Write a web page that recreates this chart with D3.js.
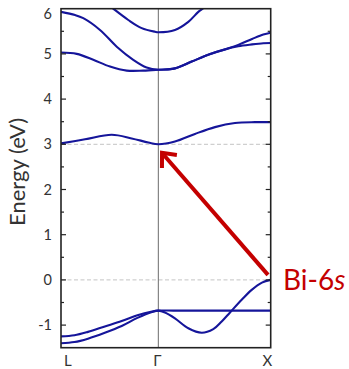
<!DOCTYPE html>
<html>
<head>
<meta charset="utf-8">
<script src="https://cdn.jsdelivr.net/npm/d3@7"></script>
<style>
  html, body { margin: 0; padding: 0; background: #fff; }
  svg { display: block; }
  text { font-family: Lato, "Open Sans", "DejaVu Sans", sans-serif; }
</style>
</head>
<body>
<svg id="chart" width="349" height="369"></svg>
<script>
// High-symmetry points along the k-path (path length, L–Γ shorter than Γ–X)
const kPoints = [
  { label: "L", k: 0.0 },
  { label: "Γ", k: 0.866 },
  { label: "X", k: 1.866 }
];

// Energy ticks (eV)
const yTicks = [-1, 0, 1, 2, 3, 4, 5, 6];
const yMinorTicks = [-1, -0.5, 0, 0.5, 1, 1.5, 2, 2.5, 3, 3.5, 4, 4.5, 5, 5.5];

// Reference energy levels drawn as dashed guides
const guideLevels = [0, 3];

// Band energies [k, E] along L–Γ–X
const valence1 = [[0, -1.25], [0.12, -1.225], [0.24, -1.15], [0.39, -1.03], [0.54, -0.91], [0.68, -0.78], [0.81, -0.70], [0.866, -0.68], [1.0, -0.68], [1.2, -0.68], [1.4, -0.68], [1.6, -0.68], [1.866, -0.68]];
const valence2 = [[0, -1.40], [0.12, -1.375], [0.24, -1.30], [0.39, -1.17], [0.54, -1.02], [0.68, -0.84], [0.81, -0.71], [0.866, -0.68], [0.925, -0.72], [1.014, -0.85], [1.133, -1.07], [1.252, -1.17], [1.355, -1.09], [1.43, -0.92], [1.504, -0.72], [1.608, -0.44], [1.697, -0.22], [1.788, -0.06], [1.866, 0.0]];
const conduction1 = [[0, 3.02], [0.214, 3.11], [0.451, 3.21], [0.629, 3.13], [0.777, 3.04], [0.866, 3.0], [1.014, 3.06], [1.192, 3.23], [1.370, 3.38], [1.548, 3.47], [1.726, 3.49], [1.866, 3.49]];
const upperA = [[0, 5.93], [0.125, 5.86], [0.198, 5.79], [0.347, 5.53], [0.496, 5.16], [0.643, 4.87], [0.762, 4.70], [0.866, 4.65], [1.014, 4.68], [1.163, 4.83], [1.310, 4.98], [1.459, 5.10], [1.577, 5.20], [1.70, 5.33], [1.80, 5.43], [1.866, 5.47]];
const upperB = [[0, 5.03], [0.140, 5.00], [0.287, 4.87], [0.436, 4.72], [0.585, 4.63], [0.732, 4.63], [0.866, 4.65], [1.014, 4.68], [1.163, 4.83], [1.310, 4.98], [1.459, 5.10], [1.577, 5.17], [1.70, 5.21], [1.80, 5.235], [1.866, 5.24]];
const upperC = [[0.44, 6.05], [0.465, 6.0], [0.599, 5.75], [0.718, 5.57], [0.837, 5.49], [0.866, 5.48], [1.014, 5.53], [1.133, 5.71], [1.222, 5.93], [1.261, 6.0], [1.29, 6.06]];
const bands = [valence1, valence2, conduction1, upperA, upperB, upperC];

// Annotation: Bi-6s state at X pointing to the conduction minimum at Γ
const arrowFrom = [1.842, 0.11];
const arrowTo = [0.899, 2.81];

const svg = d3.select("#chart");
const plotLeft = 61, plotRight = 270.7, plotTop = 8.7, plotBottom = 347.7;

const x = d3.scaleLinear().domain([0, 1.866]).range([plotLeft, plotRight]);
const y = d3.scaleLinear().domain([-1.5, 6]).range([plotBottom, plotTop]);

svg.append("defs").append("clipPath").attr("id", "plot-clip")
  .append("rect")
  .attr("x", plotLeft).attr("y", plotTop)
  .attr("width", plotRight - plotLeft).attr("height", plotBottom - plotTop);

// Dashed guide levels
svg.append("g").selectAll("line").data(guideLevels).join("line")
  .attr("x1", plotLeft).attr("x2", plotRight)
  .attr("y1", d => y(d)).attr("y2", d => y(d))
  .attr("stroke", "#c4c4c4").attr("stroke-width", 1)
  .attr("stroke-dasharray", "4,2.5");

// Vertical line at Γ
svg.append("line")
  .attr("x1", x(kPoints[1].k)).attr("x2", x(kPoints[1].k))
  .attr("y1", plotTop).attr("y2", plotBottom)
  .attr("stroke", "#6b6b6b").attr("stroke-width", 1);

// Bands
const line = d3.line()
  .x(d => x(d[0])).y(d => y(d[1]))
  .curve(d3.curveCatmullRom.alpha(0.5));

svg.append("g").attr("clip-path", "url(#plot-clip)")
  .selectAll("path").data(bands).join("path")
  .attr("d", line)
  .attr("fill", "none")
  .attr("stroke", "#15159a")
  .attr("stroke-width", 2.1);

// Frame
svg.append("rect")
  .attr("x", plotLeft).attr("y", plotTop)
  .attr("width", plotRight - plotLeft).attr("height", plotBottom - plotTop)
  .attr("fill", "none").attr("stroke", "#222").attr("stroke-width", 1.6);

// Ticks (inward, on both sides)
const tickG = svg.append("g").attr("stroke", "#222").attr("stroke-width", 1.2);
yMinorTicks.forEach(v => {
  const len = Number.isInteger(v) ? 5 : 3;
  tickG.append("line").attr("x1", plotLeft).attr("x2", plotLeft + len).attr("y1", y(v)).attr("y2", y(v));
  tickG.append("line").attr("x1", plotRight - len).attr("x2", plotRight).attr("y1", y(v)).attr("y2", y(v));
});

// Y tick labels
svg.append("g").selectAll("text").data(yTicks).join("text")
  .attr("x", 52)
  .attr("y", d => Math.max(y(d), 14))
  .attr("dy", "0.35em")
  .attr("text-anchor", "end")
  .attr("font-size", 14.5)
  .attr("fill", "#333")
  .text(d => d);

// K-point labels
const anchors = ["start", "middle", "end"];
const offsets = [3, -1, 1.5];
svg.append("g").selectAll("text").data(kPoints).join("text")
  .attr("x", (d, i) => x(d.k) + offsets[i])
  .attr("y", 366)
  .attr("text-anchor", (d, i) => anchors[i])
  .attr("font-size", 15)
  .attr("fill", "#333")
  .text(d => d.label);

// Axis title
svg.append("text")
  .attr("transform", "translate(25,172) rotate(-90)")
  .attr("text-anchor", "middle")
  .attr("font-size", 22)
  .attr("fill", "#333")
  .text("Energy (eV)");

// Arrow annotation
const red = "#c40000";
const x0 = x(arrowFrom[0]), y0 = y(arrowFrom[1]);
const x1 = x(arrowTo[0]), y1 = y(arrowTo[1]);
svg.append("line")
  .attr("x1", x0).attr("y1", y0).attr("x2", x1 + 2).attr("y2", y1 + 2.3)
  .attr("stroke", red).attr("stroke-width", 4);
const ang = Math.atan2(y0 - y1, x0 - x1);
const headLen = 15, spread = 0.72;
const hp = [
  [x1 + headLen * Math.cos(ang - spread), y1 + headLen * Math.sin(ang - spread)],
  [x1, y1],
  [x1 + headLen * Math.cos(ang + spread), y1 + headLen * Math.sin(ang + spread)]
];
svg.append("path")
  .attr("d", d3.line()(hp))
  .attr("fill", "none").attr("stroke", red).attr("stroke-width", 4)
  .attr("stroke-linejoin", "miter").attr("stroke-linecap", "butt");

const lbl = svg.append("text")
  .attr("x", 283).attr("y", 290)
  .attr("font-size", 28)
  .attr("fill", red);
lbl.append("tspan").text("Bi-6");
lbl.append("tspan").attr("font-style", "italic").text("s");
</script>
</body>
</html>
